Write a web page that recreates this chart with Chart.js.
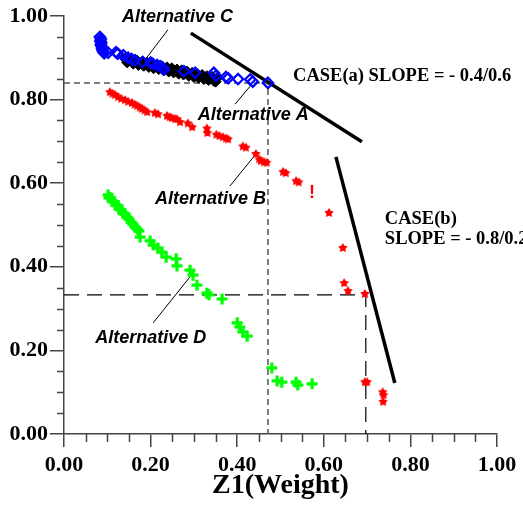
<!DOCTYPE html>
<html><head><meta charset="utf-8">
<script src="https://cdn.jsdelivr.net/npm/chart.js@4"></script>
<style>html,body{margin:0;padding:0;background:#fff}canvas{display:block}</style>
</head><body>
<canvas id="c" width="523" height="506"></canvas>
<script>
// ---- data (x = Z1 weight, y = objective) ----
const altA = [[0.083,0.950],[0.085,0.945],[0.084,0.940],[0.086,0.936],[0.085,0.931],[0.087,0.927],[0.088,0.922],[0.089,0.918],
  [0.091,0.914],[0.093,0.911],
  [0.102,0.912],[0.120,0.913],[0.124,0.910],[0.137,0.906],[0.148,0.900],[0.156,0.897],[0.164,0.894],[0.182,0.890],[0.200,0.889],
  [0.205,0.886],[0.215,0.883],[0.222,0.880],[0.228,0.876],[0.231,0.872],[0.277,0.868],[0.303,0.864],[0.346,0.864],[0.351,0.857],
  [0.374,0.854],[0.379,0.851],[0.402,0.849],[0.430,0.848],[0.436,0.843],[0.471,0.840]];
const altC = [[0.141,0.898],[0.146,0.889],[0.157,0.895],[0.160,0.886],[0.169,0.893],[0.172,0.883],[0.180,0.890],[0.184,0.881],
  [0.192,0.888],[0.196,0.878],[0.203,0.885],[0.207,0.875],[0.215,0.882],[0.219,0.873],[0.226,0.880],[0.230,0.870],[0.238,0.877],
  [0.242,0.867],[0.249,0.875],[0.253,0.865],[0.261,0.872],[0.265,0.862],[0.272,0.870],[0.276,0.860],[0.284,0.867],[0.288,0.857],
  [0.296,0.864],[0.300,0.854],[0.307,0.862],[0.311,0.852],[0.319,0.859],[0.323,0.849],[0.330,0.856],[0.334,0.847],[0.342,0.854],
  [0.346,0.845],[0.353,0.851],[0.350,0.843]];
const altB = [[0.106,0.818],[0.112,0.814],[0.118,0.811],[0.125,0.806],[0.132,0.802],[0.141,0.799],[0.148,0.795],[0.157,0.792],
  [0.163,0.788],[0.169,0.785],[0.175,0.781],[0.180,0.778],[0.186,0.774],[0.192,0.770],[0.210,0.768],[0.217,0.765],[0.238,0.761],
  [0.244,0.758],[0.249,0.756],[0.256,0.754],[0.261,0.753],[0.268,0.746],[0.286,0.743],[0.296,0.734],[0.330,0.731],[0.331,0.720],
  [0.352,0.716],[0.359,0.713],[0.367,0.710],[0.374,0.707],[0.379,0.705],[0.413,0.688],[0.420,0.685],[0.443,0.670],[0.451,0.657],
  [0.455,0.653],[0.462,0.650],[0.468,0.649],[0.506,0.627],[0.512,0.624],[0.536,0.605],[0.542,0.602],[0.612,0.529],[0.644,0.445],
  [0.647,0.361],[0.656,0.342],[0.695,0.335],[0.695,0.124],[0.700,0.124],[0.736,0.100],[0.738,0.093],[0.737,0.077]];
const altD = [[0.102,0.572],[0.104,0.565],[0.108,0.565],[0.111,0.557],[0.116,0.555],[0.120,0.548],[0.125,0.546],[0.127,0.538],
  [0.132,0.536],[0.136,0.529],[0.141,0.526],[0.146,0.519],[0.150,0.514],[0.155,0.507],[0.159,0.502],[0.164,0.495],[0.169,0.490],
  [0.173,0.486],[0.176,0.471],[0.199,0.462],[0.206,0.452],[0.217,0.445],[0.226,0.435],[0.236,0.423],[0.259,0.419],[0.261,0.402],
  [0.291,0.392],[0.298,0.380],[0.307,0.356],[0.330,0.337],[0.335,0.333],[0.365,0.323],[0.400,0.266],[0.406,0.256],[0.413,0.244],
  [0.423,0.234],[0.480,0.158],[0.492,0.127],[0.503,0.124],[0.536,0.124],[0.540,0.117],[0.573,0.120]];
const caseA = [[0.293,0.959],[0.688,0.699]];
const caseB = [[0.628,0.663],[0.764,0.122]];
const guideA = [[0,0.84],[0.471,0.84],[0.471,0]];
const guideB = [[0,0.333],[0.697,0.333],[0.697,0]];
const leaders = {C:[[0.240,0.967],[0.187,0.895]], A:[[0.395,0.789],[0.434,0.837]], B:[[0.383,0.593],[0.441,0.667]], D:[[0.206,0.266],[0.291,0.376]]};
const labels = [
  {text:'Alternative C', x:0.134, y:0.998, font:'italic bold 18px "Liberation Sans"', color:'#000'},
  {text:'Alternative A', x:0.309, y:0.763, font:'italic bold 18px "Liberation Sans"', color:'#000'},
  {text:'Alternative B', x:0.210, y:0.562, font:'italic bold 18px "Liberation Sans"', color:'#000'},
  {text:'Alternative D', x:0.072, y:0.230, font:'italic bold 18px "Liberation Sans"', color:'#000'},
  {text:'CASE(a) SLOPE = - 0.4/0.6', x:0.529, y:0.855, font:'bold 18.5px "Liberation Serif"', color:'#000'},
  {text:'CASE(b)', x:0.741, y:0.514, font:'bold 18.5px "Liberation Serif"', color:'#000'},
  {text:'SLOPE = - 0.8/0.2', x:0.741, y:0.467, font:'bold 18.5px "Liberation Serif"', color:'#000'},
  {text:'!', x:0.566, y:0.577, font:'bold 18px "Liberation Sans"', color:'#ff0000'}
];
const tickStep = 0.2, minorStep = 0.05;

const pts = a => a.map(p => ({x:p[0], y:p[1]}));
function makeStar(r, color){
  const c = document.createElement('canvas'); c.width = c.height = Math.ceil(2*r+2);
  const g = c.getContext('2d'); g.fillStyle = color; g.beginPath();
  for (let i=0;i<10;i++){const a=-Math.PI/2+i*Math.PI/5, rr=i%2?r*0.55:r; g.lineTo(c.width/2+rr*Math.cos(a), c.height/2+rr*Math.sin(a));}
  g.closePath(); g.fill(); return c;
}
const star = makeStar(5, '#ff0000');

const lineDs = (d, color, w, dash, order) => ({data:pts(d), showLine:true, pointRadius:0, borderColor:color, borderWidth:w, borderDash:dash||[], fill:false, order});

const minorTicks = {
  id:'minorTicks',
  afterDraw(chart){
    const {ctx, scales:{x, y}} = chart; ctx.save(); ctx.strokeStyle='#444'; ctx.lineWidth=1.5;
    for (let v=minorStep; v<1-1e-6; v+=minorStep){
      if (Math.abs(v/tickStep - Math.round(v/tickStep))<1e-6) continue;
      const px = Math.round(x.getPixelForValue(v))+0.5; ctx.beginPath(); ctx.moveTo(px, y.bottom); ctx.lineTo(px, y.bottom+8); ctx.stroke();
      const py = Math.round(y.getPixelForValue(v))+0.5; ctx.beginPath(); ctx.moveTo(x.left-7, py); ctx.lineTo(x.left, py); ctx.stroke();
    }
    ctx.restore();
  }
};
const textLabels = {
  id:'textLabels',
  afterDatasetsDraw(chart){
    const {ctx, scales:{x, y}} = chart; ctx.save(); ctx.textBaseline='middle'; ctx.textAlign='left';
    labels.forEach(l => { ctx.font = l.font; ctx.fillStyle = l.color; ctx.fillText(l.text, x.getPixelForValue(l.x), y.getPixelForValue(l.y)); });
    ctx.restore();
  }
};

new Chart(document.getElementById('c'), {
  type:'scatter',
  data:{datasets:[
    {data:pts(altA), pointStyle:'rectRot', pointRadius:5.2, pointBorderColor:'#0000ff', pointBackgroundColor:'rgba(0,0,0,0)', pointBorderWidth:2.2, order:1},
    {data:pts(altC), pointStyle:'rectRot', pointRadius:5.5, pointBorderColor:'#000', pointBackgroundColor:'#000', pointBorderWidth:1, order:2},
    {data:pts(altB), pointStyle:star, pointRadius:5, order:3},
    {data:pts(altD), pointStyle:'cross', pointRadius:5.5, pointBorderColor:'#00ff00', pointBackgroundColor:'#00ff00', pointBorderWidth:3.2, order:4},
    lineDs(caseA, '#000', 3.5, null, 5),
    lineDs(caseB, '#000', 3.5, null, 5),
    lineDs(leaders.C, '#000', 1, null, 6),
    lineDs(leaders.A, '#000', 1, null, 6),
    lineDs(leaders.B, '#000', 1, null, 6),
    lineDs(leaders.D, '#000', 1, null, 6),
    lineDs(guideA, '#555', 1.5, [6,4], 7),
    lineDs(guideB, '#000', 1.2, [15,8], 7)
  ]},
  options:{
    responsive:false, animation:false, events:[], devicePixelRatio:1,
    layout:{padding:{top:16, right:26, left:0, bottom:0}},
    plugins:{legend:{display:false}, tooltip:{enabled:false}},
    scales:{
      x:{type:'linear', min:0, max:1,
        afterFit(s){ s.height = 72; },
        ticks:{stepSize:tickStep, callback:v=>v.toFixed(2), color:'#000', padding:5, maxRotation:0,
          font:{family:'Liberation Serif', weight:'bold', size:22}},
        grid:{drawOnChartArea:false, drawTicks:true, tickLength:13, color:'#444', lineWidth:1.5},
        border:{display:true, color:'#444', width:1.5},
        title:{display:true, text:'Z1(Weight)', color:'#000', font:{family:'Liberation Serif', weight:'bold', size:28}, padding:{top:0, bottom:3}}
      },
      y:{type:'linear', min:0, max:1,
        afterFit(s){ s.width = 64; },
        ticks:{stepSize:tickStep, callback:v=>v.toFixed(2), color:'#000', padding:2,
          font:{family:'Liberation Serif', weight:'bold', size:22}},
        grid:{drawOnChartArea:false, drawTicks:true, tickLength:14, color:'#444', lineWidth:1.5},
        border:{display:true, color:'#444', width:1.5}
      }
    }
  },
  plugins:[minorTicks, textLabels]
});
</script>
</body></html>
